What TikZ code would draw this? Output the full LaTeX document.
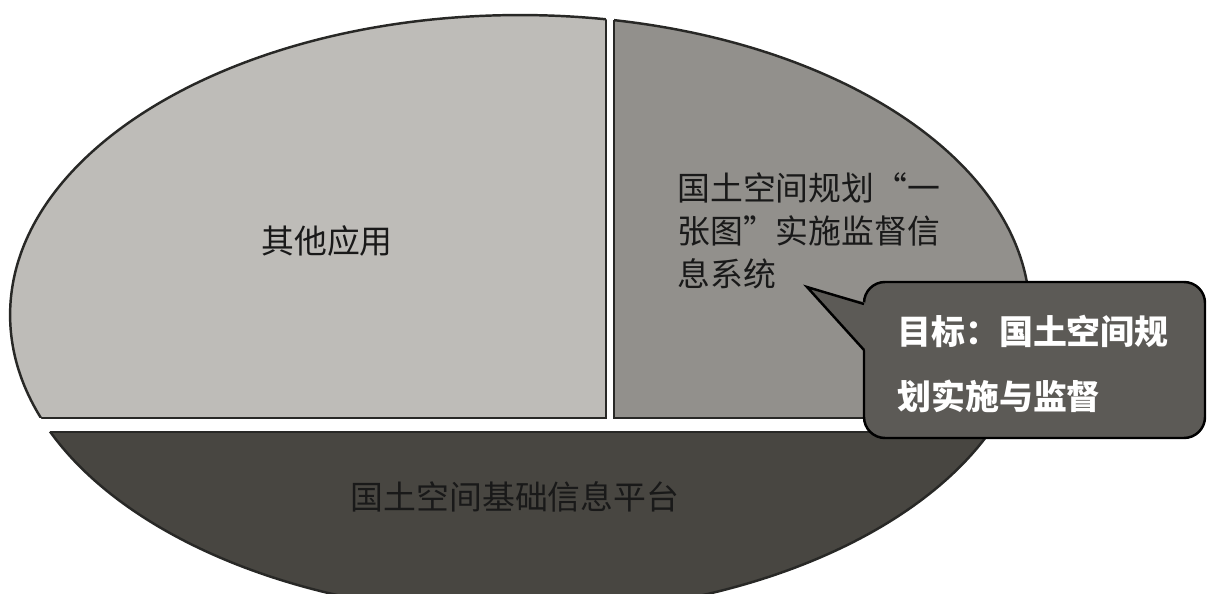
\documentclass[tikz,border=0pt]{standalone}
\usepackage{fontspec}
\newfontfamily\cjk{Noto Sans CJK SC}
\definecolor{lightreg}{RGB}{190,188,184}
\definecolor{midreg}{RGB}{146,144,140}
\definecolor{darkreg}{RGB}{72,70,65}
\definecolor{calloutfill}{RGB}{92,90,86}
\definecolor{edgecol}{RGB}{40,40,38}
\tikzset{
  regiontext/.style={font=\cjk\fontsize{18.7}{24.4}\selectfont, text=black!90, inner sep=0pt},
  callouttext/.style={font=\cjk\bfseries\fontsize{19.3}{37}\selectfont, text=white, inner sep=0pt, align=left},
  edge/.style={draw=edgecol, line width=1.1pt},
  gap/.style={fill=white, draw=none}
}
\begin{document}
\begin{tikzpicture}[x=0.02cm, y=-0.02cm]
\useasboundingbox (0,0) rectangle (1213,594);
\fill[white] (0,0) rectangle (1213,594);
% regions
\begin{scope}
  \clip (520,315) ellipse [x radius=10.2cm, y radius=6cm];
  \fill[lightreg] (0,0) rectangle (610,425);
  \fill[midreg] (610,0) rectangle (1213,425);
  \fill[darkreg] (0,425) rectangle (1213,700);
\end{scope}
\draw[edge, line width=1.4pt] (520,315) ellipse [x radius=10.2cm, y radius=6cm];
% white gaps
\fill[gap] (606,-5) rectangle (614,418);
\fill[gap] (-5,418) rectangle (1220,432);
\begin{scope}
  \clip (520,315) ellipse [x radius=10.2cm, y radius=6cm];
  \draw[edge] (0,418) -- (606,418) -- (606,0);
  \draw[edge] (614,0) -- (614,418) -- (1213,418);
  \draw[edge] (0,432) -- (1213,432);
\end{scope}
% texts
\node[regiontext] (other) at (327,241) {其他应用};
\node[regiontext, anchor=west, align=left] (system) at (677,231)
  {国土空间规划“一\\张图”实施监督信\\息系统};
\node[regiontext] (platform) at (515,497) {国土空间基础信息平台};
% callout
\fill[calloutfill, draw=black, line width=1.4pt, rounded corners=0.42cm]
  (864,282) rectangle (1205,438);
\fill[calloutfill] (807,287) -- (867,303) -- (867,352) -- cycle;
\draw[black, line width=1.4pt, line join=miter] (864,304) coordinate (cb1) -- (807,287) coordinate (tip) -- (864,350) coordinate (cb2);
\node[callouttext, anchor=west] (goal) at (897,364) {目标：国土空间规\\划实施与监督};
\end{tikzpicture}
\end{document}
